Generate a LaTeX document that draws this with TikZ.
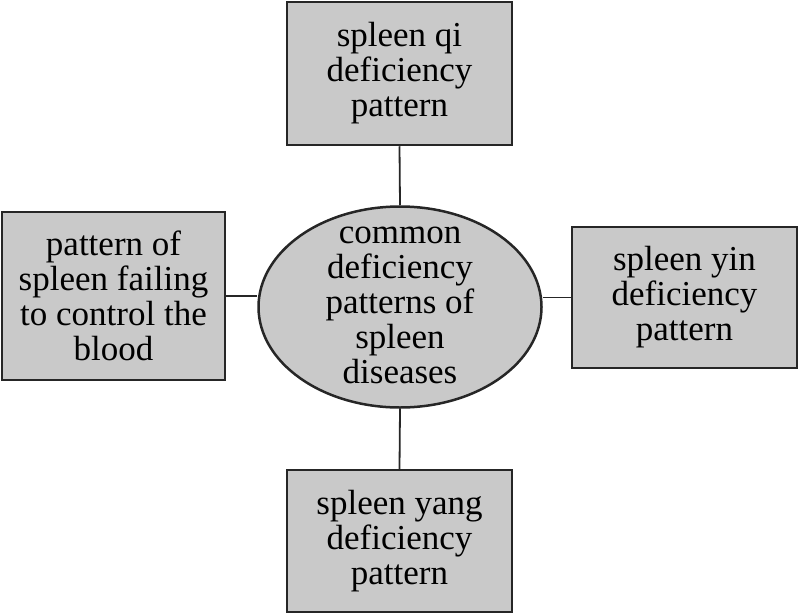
\documentclass[tikz,border=0pt]{standalone}
\usepackage{fontspec}
\setmainfont{Liberation Serif}
\usetikzlibrary{shapes.geometric}

\begin{document}
\begin{tikzpicture}[x=1pt, y=-1pt,
    font=\fontsize{35}{35}\selectfont,
    patbox/.style={draw=black!85, line width=2.5pt, fill=black!21, align=center,
                   inner sep=0pt},
    link/.style={black!85, line width=1.8pt}]
      % page
      \useasboundingbox (0,0) rectangle (799,615);

      % centre
      \node[ellipse, draw=black!85, line width=2.5pt, fill=black!21, inner sep=0pt,
            minimum width=283pt, minimum height=201pt] (core) at (400,307) {};
      \node[align=center] (coretext) at (400,305)
          {common\\deficiency\\patterns of\\spleen\\diseases};

      % boxes
      \node[patbox, minimum width=225pt, minimum height=143pt] (qi) at (399.5,73.5)
          {spleen qi\\deficiency\\pattern};
      \node[patbox, minimum width=223pt, minimum height=168pt] (blood) at (113.5,296)
          {pattern of\\spleen failing\\to control the\\blood};
      \node[patbox, minimum width=225pt, minimum height=141pt] (yin) at (684.5,297.5)
          {spleen yin\\deficiency\\pattern};
      \node[patbox, minimum width=225pt, minimum height=142pt] (yang) at (399.5,541)
          {spleen yang\\deficiency\\pattern};

      % links
      \draw[link] (qi.south) -- (core.north);
      \draw[link] (core.south) -- (yang.north);
      \draw[link] (blood.east) -- (blood.east -| core.west);
      \draw[link] (yin.west) -- (yin.west -| core.east);

\end{tikzpicture}
\end{document}
